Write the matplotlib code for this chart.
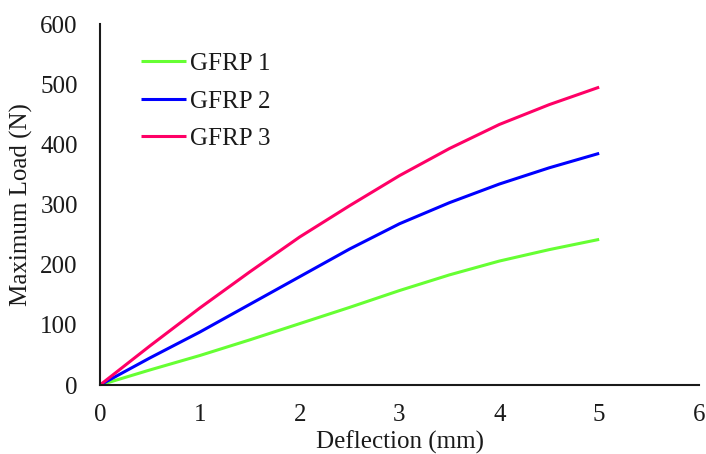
import matplotlib
matplotlib.use("Agg")
import matplotlib.pyplot as plt

deflection = [0, 0.5, 1, 1.5, 2, 2.5, 3, 3.5, 4, 4.5, 5]
gfrp1 = [0, 25, 49, 75, 102, 129, 157, 183, 206, 225, 242]
gfrp2 = [0, 45, 88, 134, 180, 226, 268, 303, 334, 361, 385]
gfrp3 = [0, 65, 128, 188, 246, 298, 348, 393, 433, 466, 495]
labels = ["GFRP 1", "GFRP 2", "GFRP 3"]
colors = ["#66FF33", "#0000FF", "#FF0066"]
xticks = [0, 1, 2, 3, 4, 5, 6]
yticks = [0, 100, 200, 300, 400, 500, 600]

plt.rcParams['font.family'] = ['Liberation Serif', 'DejaVu Serif']
fs = 18

fig = plt.figure(figsize=(7.06, 4.54), dpi=100)
ax = fig.add_axes([100/706, 1-385/454, 599/706, 361/454])

for ys, lab, c in zip([gfrp1, gfrp2, gfrp3], labels, colors):
    ax.plot(deflection, ys, color=c, lw=2.2, label=lab, solid_capstyle='butt')

ax.set_xlim(0, 6)
ax.set_ylim(0, 600)
ax.set_xticks(xticks)
ax.set_yticks(yticks)
ax.tick_params(axis='both', length=0, labelsize=fs, colors='#1a1a1a')
ax.tick_params(axis='y', pad=16)
ax.tick_params(axis='x', pad=14)
for s in ['top', 'right']:
    ax.spines[s].set_visible(False)
for s in ['left', 'bottom']:
    ax.spines[s].set_linewidth(1.5)
    ax.spines[s].set_color('#1a1a1a')

ax.set_xlabel("Deflection (mm)", fontsize=fs, color='#1a1a1a')
ax.xaxis.set_label_coords(0.5, -(431-385)/361)
ax.xaxis.label.set_va('top')
ax.set_ylabel("Maximum Load (N)", fontsize=fs, color='#1a1a1a')
ax.yaxis.set_label_coords(-(100-21)/599, 0.5)
ax.yaxis.label.set_va('center')

leg = ax.legend(loc='upper left', bbox_to_anchor=(118/706, 1-30/454),
                bbox_transform=fig.transFigure, frameon=False, fontsize=fs,
                handlelength=1.8, handletextpad=0.2, labelspacing=0.6)
for t in leg.get_texts():
    t.set_color('#1a1a1a')

fig.savefig("out.png", dpi=100)
